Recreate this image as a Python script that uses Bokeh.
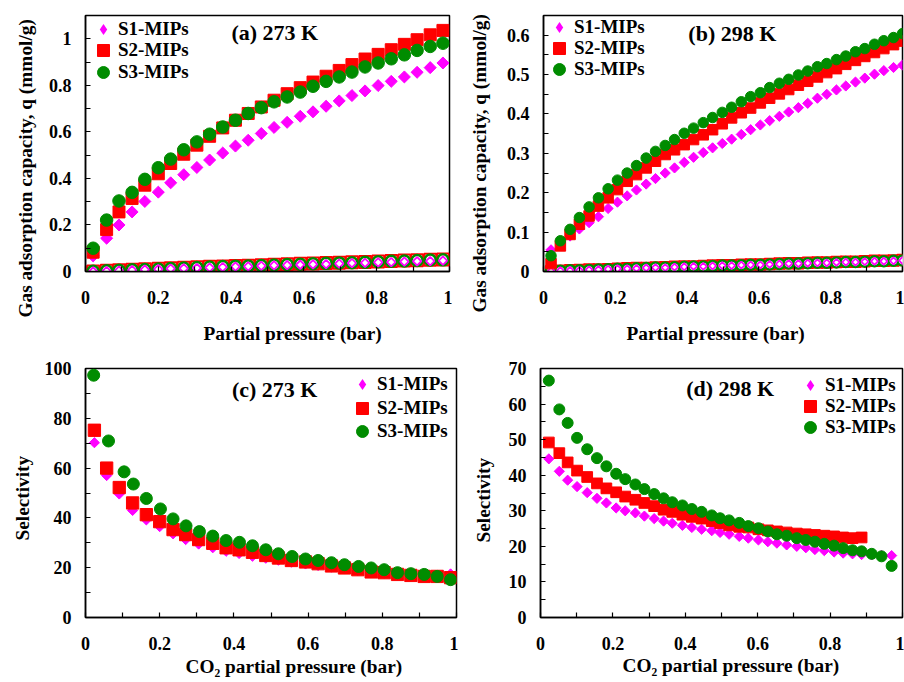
import numpy as np
from bokeh.plotting import figure
from bokeh.layouts import column, row
from bokeh.models import FixedTicker, Label, Legend, LegendItem, Title
from bokeh.embed import file_html
from bokeh.resources import INLINE

# ---------------- data ----------------
# (a) 273 K adsorption
X_A = [0.021, 0.058, 0.092, 0.128, 0.163, 0.200, 0.234, 0.270, 0.306, 0.341,
       0.377, 0.412, 0.447, 0.483, 0.518, 0.554, 0.590, 0.625, 0.661, 0.697,
       0.732, 0.768, 0.804, 0.840, 0.876, 0.911, 0.947, 0.982]
S1_A = [0.067, 0.143, 0.200, 0.256, 0.301, 0.341, 0.381, 0.416, 0.447, 0.479,
        0.509, 0.539, 0.564, 0.593, 0.619, 0.641, 0.667, 0.686, 0.710, 0.733,
        0.756, 0.776, 0.799, 0.817, 0.836, 0.856, 0.876, 0.896]
S2_A = [0.083, 0.180, 0.256, 0.314, 0.371, 0.420, 0.464, 0.504, 0.543, 0.581,
        0.617, 0.650, 0.679, 0.707, 0.736, 0.764, 0.790, 0.814, 0.839, 0.864,
        0.889, 0.913, 0.933, 0.953, 0.976, 0.996, 1.017, 1.036]
S3_A = [0.100, 0.221, 0.303, 0.340, 0.396, 0.446, 0.483, 0.523, 0.557, 0.590,
        0.621, 0.650, 0.679, 0.704, 0.729, 0.750, 0.771, 0.796, 0.817, 0.836,
        0.857, 0.879, 0.896, 0.914, 0.931, 0.950, 0.967, 0.981]
S1_A_N2 = [0.000, 0.002, 0.004, 0.006, 0.008, 0.010, 0.012, 0.013, 0.015, 0.017,
           0.019, 0.021, 0.022, 0.024, 0.026, 0.027, 0.029, 0.031, 0.032, 0.034,
           0.036, 0.037, 0.039, 0.040, 0.042, 0.044, 0.045, 0.047]
S2_A_N2 = [0.000, 0.003, 0.005, 0.008, 0.010, 0.012, 0.014, 0.016, 0.018, 0.020,
           0.022, 0.024, 0.025, 0.027, 0.029, 0.031, 0.033, 0.034, 0.036, 0.038,
           0.040, 0.041, 0.043, 0.045, 0.047, 0.048, 0.050, 0.052]
S3_A_N2 = [0.001, 0.003, 0.005, 0.007, 0.009, 0.011, 0.013, 0.015, 0.017, 0.019,
           0.021, 0.023, 0.024, 0.026, 0.028, 0.030, 0.031, 0.033, 0.035, 0.037,
           0.038, 0.040, 0.042, 0.044, 0.045, 0.047, 0.049, 0.050]

# (b) 298 K adsorption
X_B = [0.021, 0.047, 0.074, 0.100, 0.127, 0.153, 0.180, 0.206, 0.233, 0.259,
       0.286, 0.312, 0.339, 0.365, 0.392, 0.418, 0.445, 0.471, 0.498, 0.524,
       0.551, 0.577, 0.604, 0.630, 0.657, 0.683, 0.710, 0.736, 0.763, 0.789,
       0.816, 0.842, 0.869, 0.895, 0.922, 0.948, 0.975, 1.000]
S1_B = [0.055, 0.070, 0.090, 0.108, 0.124, 0.139, 0.160, 0.176, 0.192, 0.207,
        0.222, 0.236, 0.250, 0.263, 0.277, 0.290, 0.302, 0.314, 0.325, 0.336,
        0.348, 0.360, 0.372, 0.383, 0.394, 0.405, 0.416, 0.427, 0.440, 0.450,
        0.461, 0.471, 0.481, 0.491, 0.501, 0.510, 0.518, 0.524]
S2_B = [0.020, 0.065, 0.094, 0.120, 0.141, 0.166, 0.187, 0.208, 0.229, 0.246,
        0.263, 0.280, 0.297, 0.309, 0.322, 0.335, 0.347, 0.360, 0.375, 0.390,
        0.403, 0.415, 0.428, 0.440, 0.451, 0.462, 0.473, 0.483, 0.494, 0.505,
        0.515, 0.526, 0.536, 0.546, 0.556, 0.566, 0.576, 0.585]
S3_B = [0.040, 0.078, 0.107, 0.137, 0.164, 0.187, 0.210, 0.232, 0.250, 0.269,
        0.288, 0.305, 0.320, 0.335, 0.351, 0.364, 0.378, 0.391, 0.404, 0.417,
        0.431, 0.444, 0.454, 0.467, 0.478, 0.488, 0.499, 0.509, 0.520, 0.528,
        0.538, 0.547, 0.558, 0.566, 0.577, 0.586, 0.594, 0.604]
S1_B_N2 = [0.001, 0.002, 0.003, 0.003, 0.004, 0.005, 0.006, 0.007, 0.007, 0.008,
           0.009, 0.010, 0.010, 0.011, 0.012, 0.013, 0.013, 0.014, 0.015, 0.015,
           0.016, 0.017, 0.017, 0.018, 0.019, 0.020, 0.020, 0.021, 0.022, 0.022,
           0.023, 0.024, 0.024, 0.025, 0.026, 0.026, 0.027, 0.028]
S2_B_N2 = [0.001, 0.002, 0.003, 0.004, 0.005, 0.005, 0.006, 0.007, 0.008, 0.009,
           0.009, 0.010, 0.011, 0.012, 0.013, 0.013, 0.014, 0.015, 0.016, 0.016,
           0.017, 0.018, 0.018, 0.019, 0.020, 0.021, 0.021, 0.022, 0.023, 0.023,
           0.024, 0.025, 0.025, 0.026, 0.027, 0.027, 0.028, 0.029]
S3_B_N2 = [0.001, 0.002, 0.003, 0.003, 0.004, 0.005, 0.006, 0.007, 0.007, 0.008,
           0.009, 0.010, 0.010, 0.011, 0.012, 0.013, 0.013, 0.014, 0.015, 0.015,
           0.016, 0.017, 0.017, 0.018, 0.019, 0.020, 0.020, 0.021, 0.022, 0.022,
           0.023, 0.024, 0.024, 0.025, 0.026, 0.026, 0.027, 0.028]

# (c) 273 K selectivity
X_C = [0.024, 0.057, 0.091, 0.127, 0.164, 0.200, 0.236, 0.270, 0.305, 0.343,
       0.379, 0.414, 0.450, 0.486, 0.520, 0.555, 0.593, 0.627, 0.663, 0.698,
       0.734, 0.770, 0.805, 0.841, 0.877, 0.913, 0.948, 0.984]
X_C3 = [0.022, 0.062, 0.104, 0.129, 0.164, 0.202, 0.236, 0.271, 0.307, 0.343,
        0.379, 0.415, 0.450, 0.486, 0.520, 0.557, 0.593, 0.627, 0.663, 0.698,
        0.736, 0.770, 0.805, 0.841, 0.877, 0.913, 0.948, 0.984]
S1_C = [70.2, 57.0, 49.6, 43.0, 39.2, 36.5, 33.6, 31.3, 29.5, 28.0,
        26.6, 25.7, 24.6, 23.8, 23.0, 22.2, 21.5, 20.9, 20.2, 19.5,
        18.9, 18.2, 17.8, 17.2, 16.8, 16.5, 16.3, 17.5]
S2_C = [75.2, 60.0, 52.2, 46.0, 41.3, 38.5, 35.3, 33.3, 31.3, 29.8,
        28.0, 27.2, 26.2, 24.9, 23.9, 22.9, 22.3, 21.6, 20.7, 19.9,
        19.2, 18.3, 18.0, 17.3, 16.9, 16.5, 16.5, 16.0]
S3_C = [97.3, 70.9, 58.5, 53.6, 47.8, 43.6, 39.6, 36.8, 34.5, 32.7,
        30.9, 30.2, 28.8, 27.2, 25.6, 24.5, 23.5, 22.9, 22.0, 21.2,
        20.5, 19.9, 19.2, 18.0, 17.6, 17.3, 16.5, 15.2]

# (d) 298 K selectivity
X_D = [0.023, 0.052, 0.075, 0.101, 0.129, 0.156, 0.182, 0.209, 0.234, 0.262,
       0.287, 0.314, 0.340, 0.364, 0.392, 0.418, 0.445, 0.473, 0.496, 0.521,
       0.549, 0.574, 0.602, 0.628, 0.653, 0.680, 0.708, 0.733, 0.758, 0.784,
       0.811, 0.836, 0.862, 0.887, 0.915, 0.942, 0.970]
S1_D = [44.6, 41.1, 38.6, 36.8, 35.1, 33.5, 32.2, 30.8, 30.0, 29.4,
        28.5, 27.8, 27.1, 26.5, 25.9, 25.3, 24.8, 24.4, 23.9, 23.4,
        22.8, 22.3, 21.8, 21.3, 20.9, 20.4, 20.0, 19.6, 19.1, 18.8,
        18.4, 18.1, 17.9, 17.7, 17.6, 17.5, 17.4]
S2_D = [49.2, 46.2, 43.6, 41.3, 39.5, 37.7, 36.3, 35.2, 34.0, 33.1,
        32.2, 31.3, 30.3, 29.7, 28.9, 28.3, 27.8, 27.1, 26.5, 25.9,
        25.5, 25.3, 24.8, 24.5, 24.2, 23.9, 23.6, 23.4, 23.2, 23.0,
        22.8, 22.5, 22.3, 22.5]
S3_D = [66.6, 58.5, 54.7, 50.5, 47.3, 44.8, 42.5, 40.4, 38.9, 37.4,
        36.1, 34.7, 33.5, 32.4, 31.5, 30.5, 29.7, 28.7, 27.9, 27.3,
        26.6, 25.7, 25.1, 24.2, 23.4, 23.0, 22.3, 21.8, 21.3, 20.7,
        20.2, 19.5, 18.9, 18.6, 17.9, 17.2, 14.5]

LABELS = ["S1-MIPs", "S2-MIPs", "S3-MIPs"]
X_TICKS = [0, 0.2, 0.4, 0.6, 0.8, 1]

# ---------------- style ----------------
FONT = "Liberation Serif"
MAG, RED, GRN = "#FF00FF", "#FF0000", "#008C00"
ANG = np.pi / 4
LBL_SIZE = "19.3px"


def fmt(v):
    return "%g" % v


def make_fig(w, h, ylim, yticks, yminor, borders, ylabel, xlabel,
             yoff, xoff, ystand, xstand):
    l, r, t, b = borders
    p = figure(width=w, height=h, x_range=(0, 1), y_range=ylim,
               output_backend="svg", toolbar_location=None,
               min_border_left=l, min_border_right=r,
               min_border_top=t, min_border_bottom=b)
    p.xgrid.visible = False
    p.ygrid.visible = False
    p.outline_line_color = "black"
    p.outline_line_width = 1.5
    p.background_fill_color = "white"
    xminor = [0.1, 0.3, 0.5, 0.7, 0.9]
    p.xaxis.ticker = FixedTicker(ticks=X_TICKS, minor_ticks=xminor)
    p.yaxis.ticker = FixedTicker(ticks=yticks, minor_ticks=yminor)
    p.xaxis.major_label_overrides = {v: fmt(v) for v in X_TICKS}
    p.yaxis.major_label_overrides = {v: fmt(v) for v in yticks}
    for ax in (p.xaxis[0], p.yaxis[0]):
        ax.axis_line_color = "black"
        ax.axis_line_width = 1.5
        ax.major_tick_in = 5
        ax.major_tick_out = 0
        ax.minor_tick_in = 5
        ax.minor_tick_out = 0
        ax.major_tick_line_width = 1.2
        ax.minor_tick_line_width = 1.2
        ax.major_label_text_font = FONT
        ax.major_label_text_font_style = "bold"
        ax.major_label_text_font_size = "18px"
        ax.major_label_text_color = "black"
    p.xaxis.major_label_standoff = 19
    p.yaxis.major_label_standoff = 14
    tx = Title(text=xlabel, align="left", offset=xoff, standoff=xstand,
               text_font=FONT, text_font_style="bold",
               text_font_size=LBL_SIZE, text_color="black")
    p.add_layout(tx, "below")
    ty = Title(text=ylabel, align="left", offset=yoff, standoff=ystand,
               text_font=FONT, text_font_style="bold",
               text_font_size=LBL_SIZE, text_color="black")
    p.add_layout(ty, "left")
    return p


def co2_series(p, xs, ys_list, sizes):
    rs = []
    (x1, y1), (x2, y2), (x3, y3) = zip(xs, ys_list)
    p.scatter(x1, y1, marker="square", angle=ANG, size=sizes[0],
              fill_color=MAG, line_color=MAG)
    # legend swatch for S1: same points as an upright diamond of zero size
    # (legend glyphs are never rotated, and get their size from the legend box)
    rs.append(p.scatter(x1, y1, marker="diamond", size=0, line_width=0,
                        fill_color=MAG, line_color=MAG))
    rs.append(p.scatter(x2, y2, marker="square", size=sizes[1],
                        fill_color=RED, line_color=RED))
    rs.append(p.scatter(x3, y3, marker="circle", size=sizes[2],
                        fill_color=GRN, line_color=GRN))
    return rs


def n2_series(p, x, y1, y2, y3, sq, ci, di):
    p.scatter(x, y2, marker="square", size=sq, fill_color="white",
              line_color=RED, line_width=2)
    p.scatter(x, y3, marker="circle", size=ci, fill_color="white",
              line_color=GRN, line_width=2.5)
    p.scatter(x, y1, marker="square", angle=ANG, size=di, fill_color="white",
              line_color=MAG, line_width=1.8)


LEG_GH = [28, 30, 30]


def add_legend(p, rs, x, ys):
    # one single-item legend per series, so rows can sit closer than the glyph box
    for i, (lab, r, y) in enumerate(zip(LABELS, rs, ys)):
        lg = Legend(items=[LegendItem(label=lab, renderers=[r])],
                    location=(x, y), orientation="vertical",
                    border_line_color=None, background_fill_alpha=0,
                    padding=0, margin=0, spacing=0,
                    glyph_width=30, glyph_height=LEG_GH[i], label_height=18,
                    label_standoff=0,
                    label_text_font=FONT, label_text_font_style="bold",
                    label_text_font_size="19px", label_text_color="black")
        p.add_layout(lg)


def add_title(p, x, y, text):
    p.add_layout(Label(x=x, y=y, text=text, text_font=FONT,
                       text_font_style="bold", text_font_size="22px",
                       text_align="center", text_baseline="middle",
                       text_color="black"))


def legend_rows(frame_bottom, centers):
    out = []
    for i, c in enumerate(centers):
        half = LEG_GH[i] / 2
        adj = 2
        out.append(int(round(frame_bottom - (c + half) - adj)))
    return out


Q_LABEL = "Gas adsorption capacity, q (mmol/g)"
P_LABEL = "Partial pressure (bar)"
C_LABEL = "CO\u2082 partial pressure (bar)"

TOP_H, BOT_H = 358, 324

# (a)
pa = make_fig(452, TOP_H, (0, 1.1), [0, 0.2, 0.4, 0.6, 0.8, 1],
              [0.1, 0.3, 0.5, 0.7, 0.9], (85, 3, 15, 86),
              Q_LABEL, P_LABEL, -46, 118, 20, 28)
n2_series(pa, X_A, S1_A_N2, S2_A_N2, S3_A_N2, 12, 11, 6)
ra = co2_series(pa, [X_A, X_A, X_A], [S1_A, S2_A, S3_A], (8.5, 12, 12.5))
add_legend(pa, ra, 3, legend_rows(272, [28, 49, 71]))
add_title(pa, 0.52, 1.027, "(a) 273 K")

# (b)
pb = make_fig(452, TOP_H, (0, 0.65), [0, 0.1, 0.2, 0.3, 0.4, 0.5, 0.6],
              [0.05, 0.15, 0.25, 0.35, 0.45, 0.55], (90, 2, 14, 87),
              Q_LABEL, P_LABEL, -41, 83, 28, 28)
n2_series(pb, X_B, S1_B_N2, S2_B_N2, S3_B_N2, 10.5, 10, 5)
rb = co2_series(pb, [X_B, X_B, X_B], [S1_B, S2_B, S3_B], (7.2, 10.5, 10.5))
add_legend(pb, rb, 1, legend_rows(271, [25, 46, 67]))
add_title(pb, 0.526, 0.604, "(b) 298 K")

# (c)
pc = make_fig(458, BOT_H, (0, 100), [0, 20, 40, 60, 80, 100],
              [10, 30, 50, 70, 90], (83, 2, 9, 65),
              "Selectivity", C_LABEL, 77, 100, 18, 3)
rc = co2_series(pc, [X_C, X_C, X_C3], [S1_C, S2_C, S3_C], (7.2, 12.3, 12))
add_legend(pc, rc, 262, legend_rows(617, [382, 406, 429]))
add_title(pc, 0.51, 91.6, "(c) 273 K")

# (d)
pd_ = make_fig(446, BOT_H, (0, 70), [0, 10, 20, 30, 40, 50, 60, 70],
               [5, 15, 25, 35, 45, 55, 65], (82, 2, 10, 62),
               "Selectivity", C_LABEL, 75, 82, 24, 0)
rd = co2_series(pd_, [X_D, X_D[:len(S2_D)], X_D], [S1_D, S2_D, S3_D],
                (7.2, 10.7, 11))
add_legend(pd_, rd, 255, legend_rows(620, [386, 407, 428]))
add_title(pd_, 0.524, 64.3, "(d) 298 K")

layout = column(row(pa, pb), row(pc, pd_))
open("out.html", "w").write(file_html(layout, INLINE))
